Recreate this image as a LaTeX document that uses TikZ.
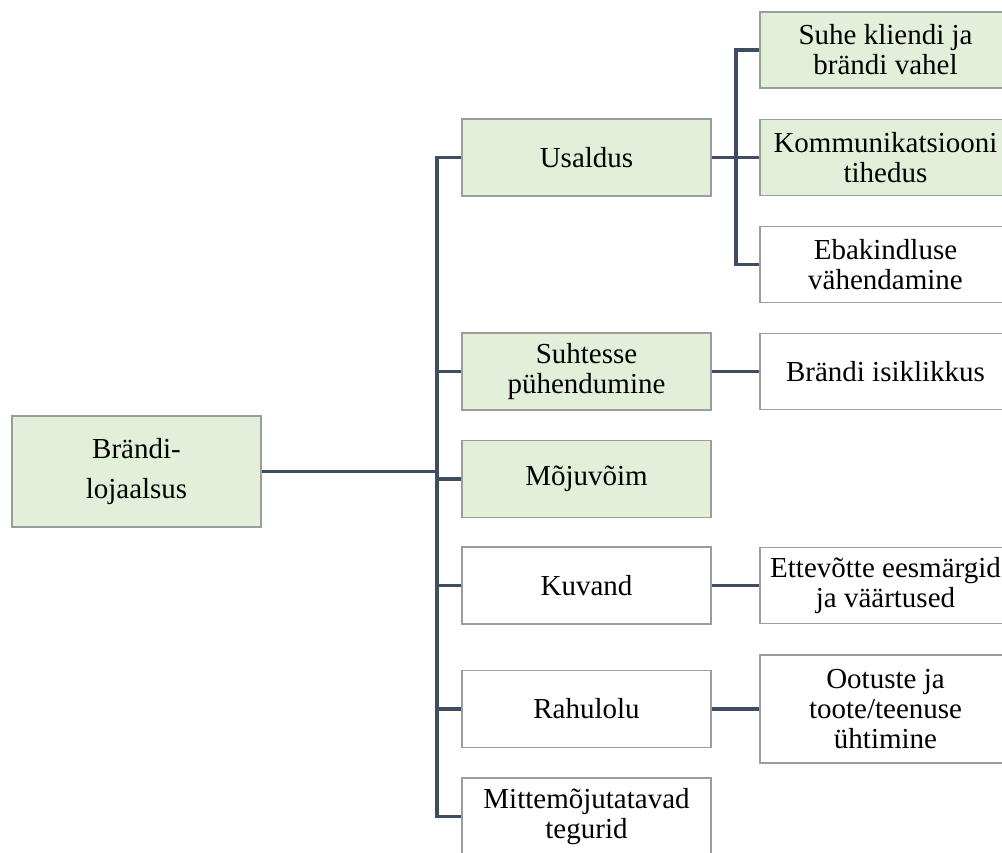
\documentclass[tikz,border=0pt]{standalone}
\usepackage{fontspec}
\setmainfont{Liberation Serif}
\definecolor{boxgreen}{HTML}{E2EFD9}
\definecolor{boxgrey}{HTML}{9C9C9C}
\definecolor{linecol}{HTML}{3E4D63}
\newcommand\txtfs{\fontsize{29}{30}\selectfont}
\begin{document}
\begin{tikzpicture}[x=1pt,y=-1pt,
  box/.style={draw=boxgrey, line width=1.8pt, fill=white, rectangle, inner sep=0pt,
              minimum width=249pt, minimum height=77pt, align=center, font=\txtfs},
  gbox/.style={box, fill=boxgreen},
  rbox/.style={box, minimum width=251pt, minimum height=76pt},
  rgbox/.style={rbox, fill=boxgreen},
  link/.style={draw=linecol, line width=3.3pt}]
\useasboundingbox (0,0) rectangle (1002,852);
\clip (0,0) rectangle (1002,852);
\fill[white] (0,0) rectangle (1002,852);

% level 0
\node[gbox, minimum height=111pt, font=\fontsize{29}{40}\selectfont] (root) at (136.5,471.5) {Brändi-\\lojaalsus};

% level 1
\node[gbox] (usaldus)  at (586.5,157.5) {Usaldus};
\node[gbox] (suhtesse) at (586.5,371.5) {Suhtesse\\pühendumine};
\node[gbox] (mojuvoim) at (586.5,479)   {Mõjuvõim};
\node[box]  (kuvand)   at (586.5,585.5) {Kuvand};
\node[box]  (rahulolu) at (586.5,709)   {Rahulolu};
\node[box]  (mitte)    at (586.5,816.5) {Mittemõjutatavad\\tegurid};

% level 2
\node[rgbox] (suhe)    at (885.5,50)    {Suhe kliendi ja\\brändi vahel};
\node[rgbox] (komm)    at (885.5,157.5) {Kommunikatsiooni\\tihedus};
\node[rbox]  (ebak)    at (885.5,264.5) {Ebakindluse\\vähendamine};
\node[rbox]  (isik)    at (885.5,371.5) {Brändi isiklikkus};
\node[rbox]  (ettev)   at (885.5,585.5) {Ettevõtte eesmärgid\\ja väärtused};
\node[rbox, minimum height=108pt] (ootuste) at (885.5,709) {Ootuste ja\\toote/teenuse\\ühtimine};

% trunk positions
\coordinate (tk) at (437,0);
\coordinate (sk) at (736,0);

% connectors
\draw[link] (root.east) -- (root.east -| tk);
\draw[link] (usaldus.west) -| (mitte.west -| tk) -- (mitte.west);
\draw[link] (suhtesse.west) -- (suhtesse.west -| tk);
\draw[link] (mojuvoim.west) -- (mojuvoim.west -| tk);
\draw[link] (kuvand.west) -- (kuvand.west -| tk);
\draw[link] (rahulolu.west) -- (rahulolu.west -| tk);

\draw[link] (usaldus.east) -- (komm.west);
\draw[link] (suhe.west) -| (ebak.west -| sk) -- (ebak.west);
\draw[link] (suhtesse.east) -- (isik.west);
\draw[link] (kuvand.east) -- (ettev.west);
\draw[link] (rahulolu.east) -- (ootuste.west);
\end{tikzpicture}
\end{document}
